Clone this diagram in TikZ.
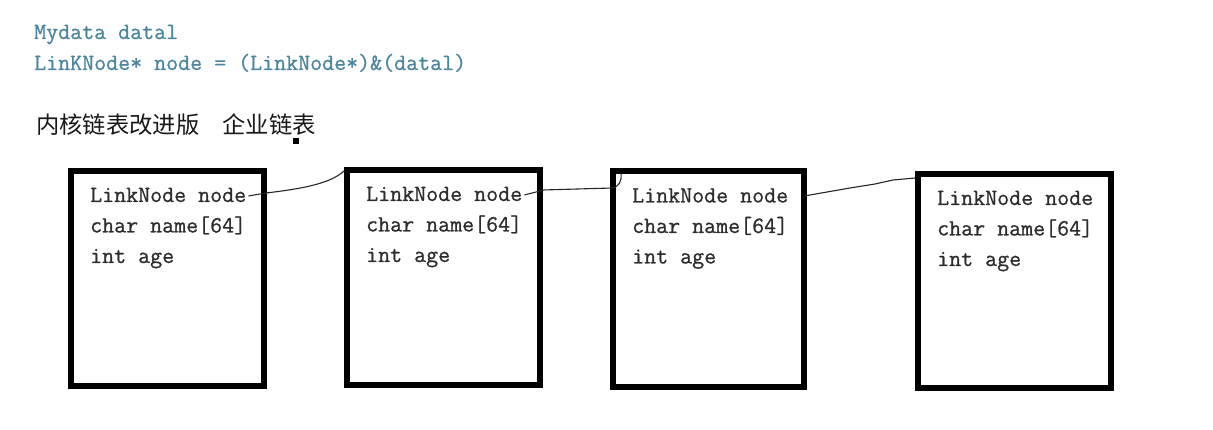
\documentclass[tikz,border=0pt]{standalone}
\usepackage{fontspec}
\setmonofont{Latin Modern Mono}[RawFeature={embolden=0.7}]
\newfontfamily\cjk{Noto Sans CJK SC}
\definecolor{codeblue}{RGB}{74,134,160}
\definecolor{inkgray}{RGB}{45,45,45}
\tikzset{
  structbox/.style={draw=black, line width=6pt, inner sep=0pt, minimum width=193pt, minimum height=215pt},
  fieldtext/.style={anchor=base west, inner sep=0pt, text=inkgray, font=\fontsize{23.3}{26}\selectfont\ttfamily},
  codetext/.style={anchor=base west, inner sep=0pt, text=codeblue, font=\fontsize{23.3}{26}\selectfont\ttfamily},
  linkline/.style={draw=black!85, line width=1.1pt, line join=round},
}
\begin{document}
\begin{tikzpicture}[x=1pt,y=-1pt]
\useasboundingbox[fill=white] (0,0) rectangle (1213,430);

% header code
\node[codetext] (code1) at (34,39) {Mydata datal};
\node[codetext] (code2) at (34,70) {LinKNode* node = (LinkNode*)\&(datal)};
\node[anchor=west, inner sep=0pt, font=\cjk\fontsize{23.3}{26}\selectfont, text=black!90] (title) at (36,125) {内核链表改进版　企业链表};
\node[fill=black, inner sep=0pt, minimum size=6pt] (cursor) at (295.5,141) {};

% boxes
\node[structbox] (b1) at (167.5,278.5) {};
\node[structbox] (b2) at (443.5,277.5) {};
\node[structbox, minimum width=191pt] (b3) at (708.5,279) {};
\node[structbox, minimum height=214pt] (b4) at (1014.5,281) {};

% fields
\foreach \b in {1,2,3,4}{
  \node[fieldtext] (t\b a) at ([shift={(22,34)}]b\b.north west) {LinkNode node};
  \node[fieldtext] (t\b b) at ([shift={(22,64.5)}]b\b.north west) {char name[64]};
  \node[fieldtext] (t\b c) at ([shift={(22,95)}]b\b.north west) {int age};
}

% links
\coordinate (h3) at ([shift={(11,5)}]b3.north west);
\coordinate (e4) at ([shift={(0,7)}]b4.north west);

\draw[linkline] ([shift={(2,1)}]t1a.east) -- ++(18,-3)
  .. controls (300,189) and (330,184) .. ([shift={(0,4)}]b2.north west);
\draw[linkline] ([shift={(2,1)}]t2a.east) -- ++(20,-5) -- (612,188)
  .. controls (619,187) and (622,181) .. (h3);
\draw[linkline] (t3a.base -| b3.east) ++(0,-7) -- (850,188) -- (875,184) -- (893,180) -- (e4);
\end{tikzpicture}
\end{document}
